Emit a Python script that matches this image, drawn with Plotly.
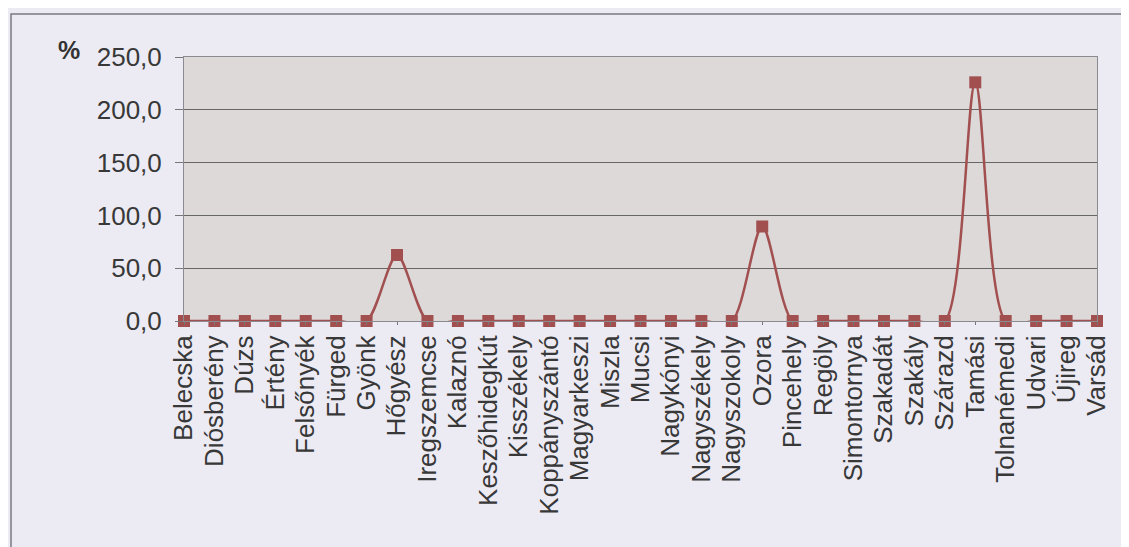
import plotly.graph_objects as go

# Települések és százalékos értékek
telepulesek = [
    "Belecska", "Diósberény", "Dúzs", "Értény", "Felsőnyék", "Fürged", "Gyönk",
    "Hőgyész", "Iregszemcse", "Kalaznó", "Keszőhidegkút", "Kisszékely",
    "Koppányszántó", "Magyarkeszi", "Miszla", "Mucsi", "Nagykónyi",
    "Nagyszékely", "Nagyszokoly", "Ozora", "Pincehely", "Regöly", "Simontornya",
    "Szakadát", "Szakály", "Szárazd", "Tamási", "Tolnanémedi", "Udvari",
    "Újireg", "Varsád",
]
ertekek = [
    0, 0, 0, 0, 0, 0, 0,
    62.5, 0, 0, 0, 0,
    0, 0, 0, 0, 0,
    0, 0, 89.5, 0, 0, 0,
    0, 0, 0, 226.0, 0, 0,
    0, 0,
]
y_tickvals = [0, 50, 100, 150, 200, 250]
y_ticktext = ["0,0", "50,0", "100,0", "150,0", "200,0", "250,0"]

# page body adds an 8px offset, so size the figure to the visible area
W, H = 1121, 539
L, R, T, B = 176, 32, 49, 226
pw, ph = W - L - R, H - T - B

fig = go.Figure()
fig.add_trace(go.Scatter(
    x=telepulesek, y=ertekek,
    mode="lines+markers",
    line=dict(color="#a24f50", width=2.5, shape="spline", smoothing=0.8),
    marker=dict(symbol="square", size=12, color="#a24f50"),
    cliponaxis=False,
    showlegend=False,
))

# outer chart frame (runs off the right/bottom edge like the scan)
fig.add_shape(type="rect", xref="paper", yref="paper",
              x0=(3 - L) / pw, x1=(W + 20 - L) / pw,
              y0=(T + ph - (H + 20)) / ph, y1=(T + ph - 6) / ph,
              line=dict(color="#7a7a82", width=1.5), layer="below")

fig.add_annotation(text="<b>%</b>", xref="paper", yref="paper",
                   x=(61 - L) / pw, y=(T + ph - 42) / ph,
                   xanchor="center", yanchor="middle",
                   showarrow=False, font=dict(size=25, color="#333333",
                                              family="Liberation Sans, Arial"))

fig.update_layout(
    width=W, height=H,
    margin=dict(l=L, r=R, t=T, b=B),
    paper_bgcolor="#ecebf4",
    plot_bgcolor="#dcd9d8",
    font=dict(family="Liberation Sans, Arial", color="#383838"),
)
fig.update_xaxes(
    type="category", range=[0, len(telepulesek) - 1],
    tickmode="array", tickvals=telepulesek,
    tickangle=-90, tickfont=dict(size=26),
    showgrid=False, ticks="outside", ticklen=3, tickcolor="#777",
    showline=True, linecolor="#8a8a90", mirror=True,
)
fig.update_yaxes(
    range=[0, 250], tickvals=y_tickvals, ticktext=y_ticktext,
    tickfont=dict(size=26), ticks="outside", ticklen=8, tickcolor="#777",
    ticklabelstandoff=8,
    showgrid=True, gridcolor="#666666", gridwidth=1, zeroline=False,
    showline=True, linecolor="#8a8a90", mirror=True,
)

fig.write_html("out.html")
